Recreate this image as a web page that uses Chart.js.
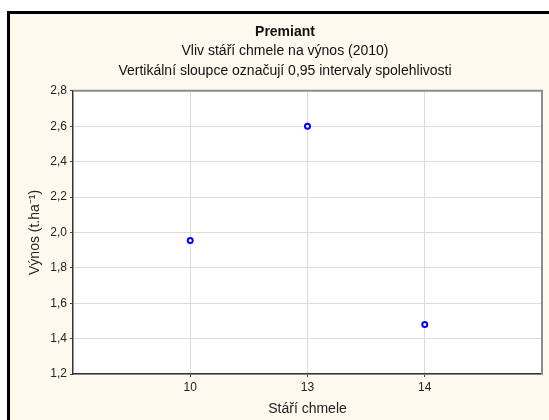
<!DOCTYPE html>
<html lang="cs">
<head>
  <meta charset="UTF-8">
  <title>Premiant - výnos</title>
  <script src="https://cdn.jsdelivr.net/npm/chart.js"></script>
  <style>
    body {
      margin: 0;
      background: #ffffff;
      font-family: "Liberation Sans", Arial, sans-serif;
    }
    .frame {
      position: absolute;
      left: 7px;
      top: 11px;
      width: 560px;
      height: 430px;
      border-left: 3px solid #000;
      border-top: 3px solid #000;
      background: #fef9ee;
    }
    .wrap {
      position: absolute;
      left: 0;
      top: 0;
      width: 549px;
      height: 420px;
    }
  </style>
</head>
<body>
  <div class="frame"></div>
  <div class="wrap"><canvas id="chart" width="549" height="420"></canvas></div>

  <script>
    // data
    const ages = ['10', '13', '14'];
    const yields = [1.955, 2.6, 1.48];
    const yTicks = [1.2, 1.4, 1.6, 1.8, 2.0, 2.2, 2.4, 2.6, 2.8];

    // bílé pozadí grafu + rámeček
    const plotArea = {
      id: 'plotArea',
      beforeDraw(chart) {
        const a = chart.chartArea;
        const ctx = chart.ctx;
        ctx.save();
        ctx.fillStyle = '#ffffff';
        ctx.fillRect(a.left, a.top, a.right - a.left, a.bottom - a.top);
        ctx.restore();
      },
      afterDraw(chart) {
        const a = chart.chartArea;
        const ctx = chart.ctx;
        ctx.save();
        ctx.strokeStyle = '#8c8c8c';
        ctx.lineWidth = 2;
        ctx.beginPath();
        ctx.moveTo(a.left, a.top);
        ctx.lineTo(a.right, a.top);
        ctx.lineTo(a.right, a.bottom);
        ctx.stroke();
        ctx.restore();
      }
    };

    const points = yields.map((v, i) => ({ x: i + 1, y: v }));

    new Chart(document.getElementById('chart'), {
      type: 'scatter',
      data: {
        datasets: [{
          data: points,
          borderColor: '#0000ff',
          backgroundColor: '#ffffff',
          pointRadius: 2.5,
          pointBorderWidth: 2,
          pointHoverRadius: 2.5
        }]
      },
      options: {
        responsive: false,
        animation: false,
        layout: { padding: { left: 28, right: 7, top: 0, bottom: 0 } },
        plugins: {
          legend: { display: false },
          tooltip: { enabled: false },
          title: {
            display: true,
            text: 'Premiant',
            color: '#111',
            font: { family: 'Liberation Sans', size: 14, weight: 'bold', lineHeight: 1.2 },
            padding: { top: 24, bottom: 0 }
          },
          subtitle: {
            display: true,
            text: ['Vliv stáří chmele na výnos (2010)',
                   'Vertikální sloupce označují 0,95 intervaly spolehlivosti'],
            color: '#111',
            font: { family: 'Liberation Sans', size: 14, lineHeight: 1.43 },
            padding: { top: 0, bottom: 10 }
          }
        },
        scales: {
          x: {
            type: 'linear',
            min: 0,
            max: 4,
            afterBuildTicks: s => { s.ticks = [1, 2, 3].map(v => ({ value: v })); },
            afterFit: s => { s.height = 46; },
            ticks: {
              callback: v => ages[v - 1],
              color: '#222',
              font: { family: 'Liberation Sans', size: 12 },
              padding: 3,
              maxRotation: 0
            },
            grid: { color: '#dcdcdc', tickColor: '#444', tickLength: 3 },
            border: { color: '#333', width: 1.5 },
            title: {
              display: true,
              text: 'Stáří chmele',
              color: '#222',
              font: { family: 'Liberation Sans', size: 14 },
              padding: { top: 0, bottom: 2.6 }
            }
          },
          y: {
            min: 1.2,
            max: 2.8,
            afterBuildTicks: s => { s.ticks = yTicks.map(v => ({ value: v })); },
            afterFit: s => { s.width = 45; },
            ticks: {
              callback: v => v.toFixed(1).replace('.', ','),
              color: '#222',
              font: { family: 'Liberation Sans', size: 12 },
              padding: 3
            },
            grid: { color: '#dcdcdc', tickColor: '#444', tickLength: 3 },
            border: { color: '#333', width: 1.5 },
            title: {
              display: true,
              text: 'Výnos (t.ha⁻¹)',
              color: '#222',
              font: { family: 'Liberation Sans', size: 14 },
              padding: { top: -1.4, bottom: 0 }
            }
          }
        }
      },
      plugins: [plotArea]
    });
  </script>
</body>
</html>
